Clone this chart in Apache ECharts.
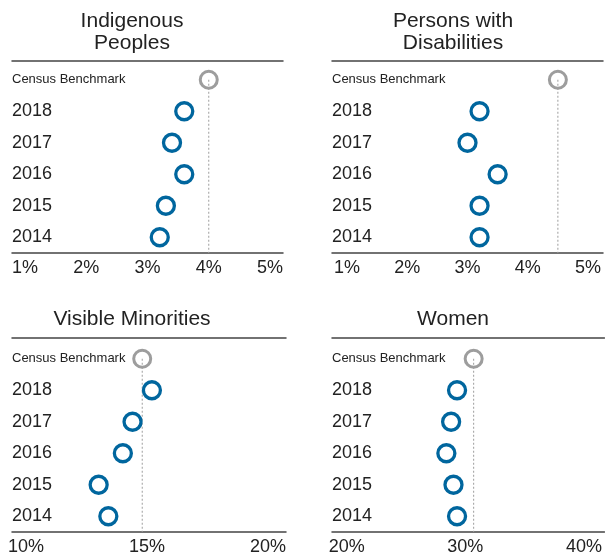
<!DOCTYPE html>
<html>
<head>
<meta charset="utf-8">
<script src="https://cdn.jsdelivr.net/npm/echarts@6/dist/echarts.min.js"></script>
<style>
  html, body { margin: 0; padding: 0; background: #ffffff; }
  #chart { width: 605px; height: 556px; }
</style>
</head>
<body>
<div id="chart"></div>
<script>
// rows, top to bottom
var rowLabels = ['Census Benchmark', '2018', '2017', '2016', '2015', '2014']
var years = ['2018', '2017', '2016', '2015', '2014']

// values in %, same order as years
var indigenousValues = [3.6, 3.4, 3.6, 3.3, 3.2]
var indigenousBenchmark = 4.0
var disabilityValues = [3.2, 3.0, 3.5, 3.2, 3.2]
var disabilityBenchmark = 4.5
var minorityValues = [15.2, 14.4, 14.0, 13.0, 13.4]
var minorityBenchmark = 14.8
var womenValues = [29.3, 28.8, 28.4, 29.0, 29.3]
var womenBenchmark = 30.7

// tick labels shown under each panel
var ticksSmall = [1, 2, 3, 4, 5]
var ticksMinority = [10, 15, 20]
var ticksWomen = [20, 30, 40]

var panelTitles = ['Indigenous\nPeoples', 'Persons with\nDisabilities', 'Visible Minorities', 'Women']

var textColor = '#222222'
var lineColor = '#444444'
var blue = '#00669e'
var grey = '#9d9d9d'
var fontFamily = '"Liberation Sans", Arial, sans-serif'

var panels = [
  { title: panelTitles[0], values: indigenousValues, bench: indigenousBenchmark, ticks: ticksSmall,
    grid: { left: 12, width: 271, top: 64, height: 189 }, min: 0.788, max: 5.212, titleX: 132, titleY: 10, topOffset: 3.5 },
  { title: panelTitles[1], values: disabilityValues, bench: disabilityBenchmark, ticks: ticksSmall,
    grid: { left: 332, width: 271, top: 64, height: 189 }, min: 0.751, max: 5.249, titleX: 453, titleY: 10, topOffset: 3.5 },
  { title: panelTitles[2], values: minorityValues, bench: minorityBenchmark, ticks: ticksMinority,
    grid: { left: 12, width: 274, top: 343, height: 189 }, min: 9.42, max: 20.74, titleX: 132, titleY: 308, topOffset: 5 },
  { title: panelTitles[3], values: womenValues, bench: womenBenchmark, ticks: ticksWomen,
    grid: { left: 332, width: 278, top: 343, height: 189 }, min: 18.76, max: 41.73, titleX: 453, titleY: 308, topOffset: 5 }
]

var option = {
  animation: false,
  backgroundColor: '#ffffff',
  textStyle: { fontFamily: fontFamily },
  title: [],
  grid: [],
  xAxis: [],
  yAxis: [],
  series: []
}

panels.forEach(function (p, i) {
  option.title.push({
    text: p.title,
    left: p.titleX,
    top: p.titleY,
    textAlign: 'center',
    padding: 0,
    textStyle: { fontSize: 21, lineHeight: 22, fontWeight: 'normal', color: textColor, fontFamily: fontFamily }
  })
  option.grid.push(p.grid)
  // bottom axis with percent labels
  option.xAxis.push({
    type: 'value',
    gridIndex: i,
    min: p.min,
    max: p.max,
    position: 'bottom',
    splitLine: { show: false },
    axisTick: { show: false },
    axisLine: { show: true, lineStyle: { color: lineColor, width: 1.5 } },
    axisLabel: {
      customValues: p.ticks,
      formatter: function (v) { return v + '%' },
      fontSize: 18,
      color: textColor,
      margin: 6,
      fontFamily: fontFamily
    }
  })
  // top rule under the title
  option.xAxis.push({
    type: 'value',
    gridIndex: i,
    min: p.min,
    max: p.max,
    position: 'top',
    offset: p.topOffset,
    splitLine: { show: false },
    axisTick: { show: false },
    axisLabel: { show: false },
    axisLine: { show: true, lineStyle: { color: lineColor, width: 1.5 } }
  })
  option.yAxis.push({
    type: 'category',
    gridIndex: i,
    data: rowLabels,
    inverse: true,
    axisLine: { show: false },
    axisTick: { show: false },
    splitLine: { show: false },
    axisLabel: {
      align: 'left',
      margin: 0,
      formatter: function (v) {
        return v === 'Census Benchmark' ? '{s|' + v + '}' : '{y|' + v + '}'
      },
      rich: {
        s: { fontSize: 13, color: textColor, fontFamily: fontFamily, align: 'left' },
        y: { fontSize: 18, color: textColor, fontFamily: fontFamily, align: 'left' }
      }
    }
  })

  // dotted benchmark line, from the grey circle down to the axis
  option.series.push({
    type: 'custom',
    xAxisIndex: i * 2,
    yAxisIndex: i,
    z: 1,
    silent: true,
    data: [[p.bench, 'Census Benchmark']],
    renderItem: function (params, api) {
      var pt = api.coord([api.value(0), api.value(1)])
      var cs = params.coordSys
      return {
        type: 'line',
        shape: { x1: pt[0], y1: pt[1], x2: pt[0], y2: cs.y + cs.height },
        style: { stroke: grey, lineWidth: 1, lineDash: [2, 2] }
      }
    }
  })
  // benchmark circle
  option.series.push({
    type: 'scatter',
    xAxisIndex: i * 2,
    yAxisIndex: i,
    z: 3,
    symbol: 'circle',
    symbolSize: 17,
    itemStyle: { color: 'rgba(0,0,0,0)', borderColor: grey, borderWidth: 3, opacity: 1 },
    data: [[p.bench, 'Census Benchmark']]
  })
  // yearly values
  option.series.push({
    type: 'scatter',
    xAxisIndex: i * 2,
    yAxisIndex: i,
    z: 3,
    symbol: 'circle',
    symbolSize: 17,
    itemStyle: { color: 'rgba(0,0,0,0)', borderColor: blue, borderWidth: 3.3, opacity: 1 },
    data: years.map(function (y, k) { return [p.values[k], y] })
  })
})

var chart = echarts.init(document.getElementById('chart'), null, { renderer: 'canvas' })
chart.setOption(option)
</script>
</body>
</html>
